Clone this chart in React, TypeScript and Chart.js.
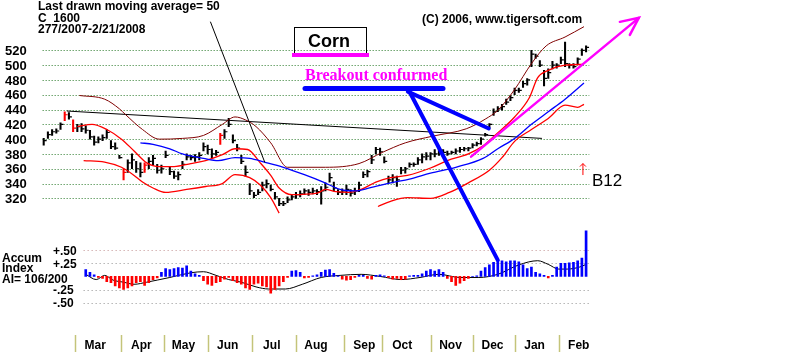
import React, { useEffect, useRef } from "react";
import { Chart, registerables } from "chart.js";
Chart.register(...registerables);

// x = trading-day index, 0 = 2/7/2007 ; one price bar every 2 trading days
const priceLow = [392,401,405,408,413,425,427,410,410,410,408,400,392,395,398,401,387,386,374,345,355,360,355,349,355,360,365,354,354,375,352,347,345,360,372,372,370,372,384,380,375,378,393,401,417,395,384,367,350,325,321,325,330,334,330,319,310,310,314,318,320,322,325,324,326,325,312,330,342,330,325,325,325,323,325,329,348,349,367,380,378,368,341,341,336,353,354,362,363,366,368,372,372,376,378,378,378,380,380,382,384,384,388,391,393,404,415,432,437,439,447,452,460,463,470,473,498,509,498,472,482,495,496,502,498,496,496,502,513,518];
const priceHigh = [401,410,413,414,422,437,436,426,420,421,418,412,404,403,406,413,398,395,378,360,372,380,370,368,368,375,378,366,365,384,362,357,356,370,380,378,379,382,395,392,387,385,408,413,428,406,393,378,364,340,328,332,342,345,338,328,320,316,322,325,328,330,333,332,334,332,336,341,354,342,332,333,338,332,334,342,356,358,378,389,388,376,350,352,350,362,362,368,368,375,380,382,382,386,389,386,384,384,387,389,389,389,394,396,402,408,421,441,444,447,454,459,469,469,478,482,520,515,506,493,495,505,502,511,531,502,502,510,522,526];
const priceClose = [398,406,410,411,420,433,430,415,417,414,412,403,396,400,402,409,390,388,375,355,368,372,360,355,365,370,374,358,360,378,356,350,352,366,376,375,376,378,390,386,380,382,405,410,420,398,388,370,355,330,324,328,338,340,332,322,313,313,318,322,325,326,330,328,330,329,330,335,348,334,328,330,332,327,330,338,352,356,372,386,383,370,345,348,345,358,360,366,366,372,376,377,380,380,384,382,380,382,384,386,387,388,392,394,400,406,420,437,441,444,450,456,466,466,475,480,515,512,500,482,490,500,500,507,502,500,498,508,520,524];
const redBars = [5, 7, 19, 24, 42];

const upperBandDays = [17,29,36,39,47,55,66,76,85,91,96,101,108,116,134,150,161,172,185,201,210,216,224,232,239,248,257];
const upperBandVals = [459,454,441,433,413,400,401,405,420,430,426,417,395,362,362,367,382,395,404,414,427,439,467,502,526,538,552];
const shortMaDays = [16,23,30,37,43,49,55,62,70,77,85,91,97,103,108,112,118,130,134,139,145,151,158,165,173,184,192,202,209,215,224,231,235,240,248,257];
const shortMaVals = [417,420,413,400,384,368,363,363,367,371,379,387,386,368,351,334,325,327,332,329,328,332,342,348,351,361,371,380,391,406,430,456,483,493,500,501];
const lowerBandDays = [19,29,37,43,47,52,58,68,77,85,91,98,103,108,112,135,159,165,173,184,193,202,212,218,224,232,240,248,254,257];
const lowerBandVals = [371,369,362,351,342,334,328,332,336,340,352,348,338,321,300,null,309,316,321,320,328,341,358,375,397,413,428,446,443,447];
const ma50Days = [46,52,60,66,76,83,91,98,105,114,124,133,141,148,155,165,174,184,196,209,216,224,232,240,248,257];
const ma50Vals = [395,393,387,380,374,371,375,374,369,362,352,342,332,330,334,341,346,354,362,374,387,401,420,437,454,476];
const trendDays = [11, 237];
const trendVals = [438, 401];

const aiFirstBar = 10;
const aiValues = [0.13,0.08,0.03,-0.02,-0.04,-0.1,-0.12,-0.18,-0.22,-0.25,
-0.22,-0.18,-0.12,-0.1,-0.17,-0.12,-0.06,-0.03,0.08,0.15,
0.13,0.15,0.17,0.16,0.2,0.1,0.05,0.02,-0.08,-0.15,
-0.17,-0.12,-0.1,-0.05,-0.02,-0.08,-0.12,-0.15,-0.22,-0.25,
-0.15,-0.13,-0.18,-0.2,-0.32,-0.25,-0.18,-0.1,-0.02,0.1,
0.11,0.08,-0.03,-0.02,0.01,0.03,0.08,0.12,0.13,0.06,
0.01,-0.05,-0.07,-0.06,-0.02,0.02,0.02,-0.04,-0.05,0.02,
0.03,0.01,-0.02,-0.05,-0.04,-0.06,-0.05,0.01,0.02,0.02,
0.05,0.1,0.13,0.1,0.13,0.08,-0.04,-0.1,-0.17,-0.13,
-0.08,-0.04,0.0,0.01,0.1,0.17,0.22,0.27,0.3,0.3,
0.28,0.3,0.3,0.28,0.22,0.15,0.18,0.08,0.05,0.02,
-0.03,0.02,0.18,0.25,0.25,0.26,0.27,0.3,0.35,0.87];
const aiMaDays = [20,25,29,33,38,43,49,54,60,70,76,82,88,94,101,107,115,123,132,141,151,160,170,179,188,198,207,216,226,235,240,245,249,255,258];
const aiMaVals = [0.04,-0.06,0.02,-0.07,-0.11,-0.15,-0.11,-0.07,-0.02,0.07,0.09,0.02,-0.06,-0.11,-0.2,-0.24,-0.24,-0.15,-0.02,0.02,0.04,0,-0.06,-0.02,0.04,-0.02,-0.02,0.04,0.22,0.3,0.23,0.14,0.14,0.18,0.23];

const priceTicks = [520,500,480,460,440,420,400,380,360,340,320];
const aiTicks = [0.5, 0.25, -0.25, -0.5];
const aiTickLabels = ["+.50", "+.25", "-.25", "-.50"];
const monthNames = ["Mar","Apr","May","Jun","Jul","Aug","Sep","Oct","Nov","Dec","Jan","Feb"];
const monthStartDays = [15,37,57,78,99,120,143,161,184,204,224,245];

const pairs = (xs: number[], ys: (number | null)[]) => xs.map((x, i) => ({ x, y: ys[i] }));

const decor = {
  id: "decor",
  beforeDatasetsDraw(chart: any) {
    const { ctx } = chart;
    const xs = chart.scales.x, ys = chart.scales.y, as = chart.scales.ai;
    ctx.save();
    ctx.lineWidth = 1;
    ctx.setLineDash([1, 2]);
    ctx.strokeStyle = "#2a7a2a";
    const gl = xs.getPixelForValue(-0.5), gr = xs.getPixelForValue(259.5);
    priceTicks.forEach((t) => {
      const py = Math.round(ys.getPixelForValue(t)) + 0.5;
      ctx.beginPath(); ctx.moveTo(gl, py); ctx.lineTo(gr, py); ctx.stroke();
    });
    const al = xs.getPixelForValue(19);
    aiTicks.forEach((t, i) => {
      ctx.setLineDash([1, 3]);
      ctx.strokeStyle = i === 0 ? "#c09090" : "#909090";
      const py = Math.round(as.getPixelForValue(t)) + 0.5;
      ctx.beginPath(); ctx.moveTo(al, py); ctx.lineTo(gr, py); ctx.stroke();
    });
    ctx.setLineDash([]);
    ctx.strokeStyle = "#c4c47a";
    ctx.lineWidth = 1.5;
    monthStartDays.forEach((d) => {
      const px = Math.round(xs.getPixelForValue(d)) + 0.5;
      ctx.beginPath(); ctx.moveTo(px, 335); ctx.lineTo(px, 352); ctx.stroke();
    });
    ctx.restore();
  },
  afterDatasetsDraw(chart: any) {
    const { ctx } = chart;
    const xs = chart.scales.x, ys = chart.scales.y, as = chart.scales.ai;
    const P = (d: number, v: number) => [xs.getPixelForValue(d), ys.getPixelForValue(v)];
    ctx.save();
    ctx.fillStyle = "#000";
    ctx.textBaseline = "middle";
    ctx.textAlign = "left";
    const B = "bold 12px 'Liberation Sans', Arial, sans-serif";
    ctx.font = "bold 13px 'Liberation Sans', Arial, sans-serif";
    priceTicks.forEach((t) => ctx.fillText(String(t), 5, ys.getPixelForValue(t) + 1));
    ctx.font = B;
    aiTicks.forEach((t, i) => ctx.fillText(aiTickLabels[i], 53, as.getPixelForValue(t) + 1));
    ctx.fillText("Accum", 2, 259);
    ctx.fillText("Index", 2, 269);
    ctx.fillText("AI= 106/200", 2, 280);
    ctx.fillText("Last drawn moving average= 50", 38, 7);
    ctx.fillText("C  1600", 38, 19);
    ctx.fillText("277/2007-2/21/2008", 38, 30);
    ctx.fillText("(C) 2006, www.tigersoft.com", 422, 20);
    ctx.textAlign = "center";
    monthNames.forEach((m, i) => ctx.fillText(m, xs.getPixelForValue(monthStartDays[i] + 9.5), 346));
    ctx.strokeStyle = "#000"; ctx.lineWidth = 1;
    ctx.strokeRect(294.5, 27.5, 72, 26);
    ctx.font = "bold 18px 'Liberation Sans', Arial, sans-serif";
    ctx.fillText("Corn", 329, 42);
    ctx.fillStyle = "#ff00ff";
    ctx.fillRect(292, 53, 77, 4);
    ctx.font = "bold 16px 'Liberation Serif', 'Times New Roman', serif";
    ctx.textAlign = "left";
    ctx.fillText("Breakout confurmed", 305, 76);
    ctx.lineCap = "round";
    ctx.strokeStyle = "#0000ff"; ctx.lineWidth = 5;
    ctx.beginPath(); ctx.moveTo(305, 88.5); ctx.lineTo(443, 88.5); ctx.stroke();
    ctx.lineWidth = 4;
    const b1 = P(173.2, 464.3), b1e = P(211.7, 414.4);
    ctx.beginPath(); ctx.moveTo(b1[0], b1[1]); ctx.lineTo(b1e[0], b1e[1]); ctx.stroke();
    const b2 = P(174.2, 463);
    ctx.beginPath(); ctx.moveTo(b2[0], b2[1]); ctx.lineTo(xs.getPixelForValue(216), as.getPixelForValue(0.31)); ctx.stroke();
    ctx.lineCap = "butt";
    ctx.strokeStyle = "#000"; ctx.lineWidth = 1;
    const p1 = P(79.3, 558.7), p2 = P(105.2, 368.5);
    ctx.beginPath(); ctx.moveTo(p1[0], p1[1]); ctx.lineTo(p2[0], p2[1]); ctx.stroke();
    ctx.strokeStyle = "#ff00ff"; ctx.lineWidth = 2.5; ctx.lineCap = "round";
    const m1 = P(203.3, 376.4), m2 = P(283.1, 563.9);
    ctx.beginPath(); ctx.moveTo(m1[0], m1[1]); ctx.lineTo(m2[0], m2[1]); ctx.stroke();
    ctx.beginPath(); ctx.moveTo(m2[0] - 19, m2[1] + 4); ctx.lineTo(m2[0], m2[1]); ctx.lineTo(m2[0] - 9, m2[1] + 17); ctx.stroke();
    ctx.strokeStyle = "#ff0000"; ctx.lineWidth = 1; ctx.lineCap = "butt";
    const r1 = P(256.5, 351.5), r2 = P(256.5, 367);
    ctx.beginPath(); ctx.moveTo(r1[0], r1[1]); ctx.lineTo(r2[0], r2[1]); ctx.stroke();
    ctx.beginPath(); ctx.moveTo(r2[0] - 3, r2[1] + 3); ctx.lineTo(r2[0], r2[1]); ctx.lineTo(r2[0] + 3, r2[1] + 3); ctx.stroke();
    ctx.fillStyle = "#000";
    ctx.font = "17px 'Liberation Sans', Arial, sans-serif";
    ctx.fillText("B12", 592, 181);
    ctx.restore();
  },
};

export default function App() {
  const ref = useRef<HTMLCanvasElement>(null);
  useEffect(() => {
    if (!ref.current) return;
    const barX = priceLow.map((_, k) => k * 2);
    const chart = new Chart(ref.current, {
      type: "bar",
      data: {
        datasets: [
          {
            type: "line", label: "upper", data: pairs(upperBandDays, upperBandVals), yAxisID: "y",
            borderColor: "#800000", borderWidth: 1, pointRadius: 0, cubicInterpolationMode: "monotone",
          },
          {
            type: "line", label: "ma50", data: pairs(ma50Days, ma50Vals), yAxisID: "y",
            borderColor: "#0000ff", borderWidth: 1.3, pointRadius: 0, cubicInterpolationMode: "monotone",
          },
          {
            type: "line", label: "short", data: pairs(shortMaDays, shortMaVals), yAxisID: "y",
            borderColor: "#ff0000", borderWidth: 1.3, pointRadius: 0, cubicInterpolationMode: "monotone",
          },
          {
            type: "line", label: "lower", data: pairs(lowerBandDays, lowerBandVals), yAxisID: "y",
            borderColor: "#ff0000", borderWidth: 1.3, pointRadius: 0, cubicInterpolationMode: "monotone", spanGaps: false,
          },
          {
            type: "line", label: "trend", data: pairs(trendDays, trendVals), yAxisID: "y",
            borderColor: "#000", borderWidth: 1, pointRadius: 0,
          },
          {
            type: "bar", label: "price", yAxisID: "y",
            data: barX.map((x, k) => ({ x, y: [priceLow[k], priceHigh[k]] })) as any,
            backgroundColor: barX.map((_, k) => (redBars.includes(k) ? "#ff0000" : "#000000")),
            barThickness: 1.4, grouped: false,
          },
          {
            type: "line", label: "close", yAxisID: "y",
            data: barX.map((x, k) => ({ x: x + 0.7, y: priceClose[k] })),
            showLine: false, pointStyle: "line", pointRadius: 1.5,
            pointBorderColor: barX.map((_, k) => (redBars.includes(k) ? "#ff0000" : "#000000")), pointBorderWidth: 1.2,
          },
          {
            type: "bar", label: "ai", yAxisID: "ai",
            data: aiValues.map((v, i) => ({ x: (aiFirstBar + i) * 2, y: v })),
            backgroundColor: aiValues.map((v) => (v >= 0 ? "#0000ff" : "#ff0000")),
            barThickness: 2, grouped: false,
          },
          {
            type: "line", label: "aiMa", data: pairs(aiMaDays, aiMaVals), yAxisID: "ai",
            borderColor: "#000", borderWidth: 1, pointRadius: 0, cubicInterpolationMode: "monotone",
          },
        ] as any,
      },
      options: {
        animation: false,
        responsive: false,
        devicePixelRatio: 1,
        layout: { padding: 0 },
        plugins: { legend: { display: false }, tooltip: { enabled: false } },
        scales: {
          x: { type: "linear", min: -18.31, max: 357.28, display: false, offset: false },
          y: { type: "linear", min: 119.4, max: 581, display: false },
          ai: { type: "linear", min: -1.343, max: 5.176, display: false },
        },
      } as any,
      plugins: [decor],
    });
    return () => chart.destroy();
  }, []);
  return (
    <div style={{ position: "absolute", left: 0, top: 0, width: 800, height: 352, background: "#fff" }}>
      <canvas ref={ref} width={800} height={352} />
    </div>
  );
}
